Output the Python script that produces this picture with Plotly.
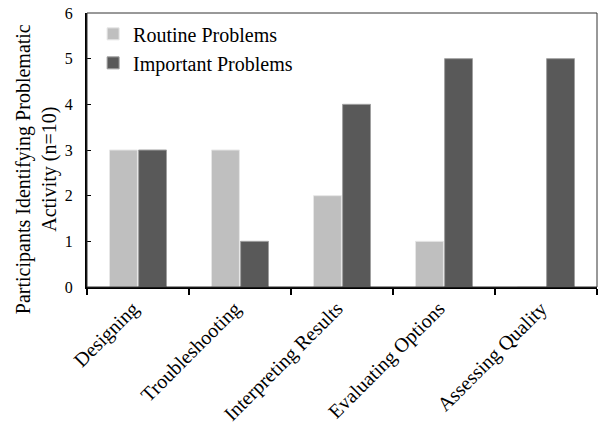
import plotly.graph_objects as go

categories = ["Designing", "Troubleshooting", "Interpreting Results", "Evaluating Options", "Assessing Quality"]
routine = [3, 3, 2, 1, 0]
important = [3, 1, 4, 5, 5]
y_ticks = [0, 1, 2, 3, 4, 5, 6]
y_title = "Participants Identifying Problematic<br>Activity (n=10)"

FONT = "Liberation Serif"

fig = go.Figure()
fig.add_trace(go.Bar(x=categories, y=routine, name="Routine Problems",
                     marker=dict(color="#BFBFBF", line=dict(color="#E6E6E6", width=1))))
fig.add_trace(go.Bar(x=categories, y=important, name="Important Problems",
                     marker=dict(color="#595959", line=dict(color="#A0A0A0", width=1))))

fig.update_layout(
    width=598, height=427,
    margin=dict(l=87, r=1, t=13, b=140),
    paper_bgcolor="white", plot_bgcolor="white",
    font=dict(family=FONT, color="black", size=15),
    barmode="group", bargap=0.43, bargroupgap=0.04,
    showlegend=True,
    legend=dict(x=0.012, y=0.995, xanchor="left", yanchor="top",
                font=dict(size=20, family=FONT), bgcolor="rgba(0,0,0,0)"),
    shapes=[dict(type="rect", xref="paper", yref="paper", x0=0, x1=1, y0=0, y1=1,
                 line=dict(color="#333333", width=1), layer="above")],
    annotations=[dict(text=y_title, xref="paper", yref="paper", x=-0.1, y=0.43,
                      xanchor="center", yanchor="middle", textangle=-90, showarrow=False,
                      font=dict(size=20, family=FONT, color="black"))],
)
fig.update_xaxes(showline=True, linecolor="black", linewidth=2, mirror=False,
                 ticks="outside", tickson="boundaries", ticklen=6, tickcolor="black", tickwidth=2,
                 tickangle=-45, ticklabelshift=-5,
                 tickfont=dict(size=20, family=FONT), showgrid=False)
fig.update_yaxes(range=[0, 6], tickvals=y_ticks, showline=True, linecolor="black", linewidth=2,
                 showgrid=False, zeroline=False, ticks="inside", ticklen=4, tickcolor="black",
                 ticklabelstandoff=9,
                 tickfont=dict(size=16, family=FONT))

fig.write_html("out.html", config={"displayModeBar": False},
               post_script="document.body.style.margin='0';")
